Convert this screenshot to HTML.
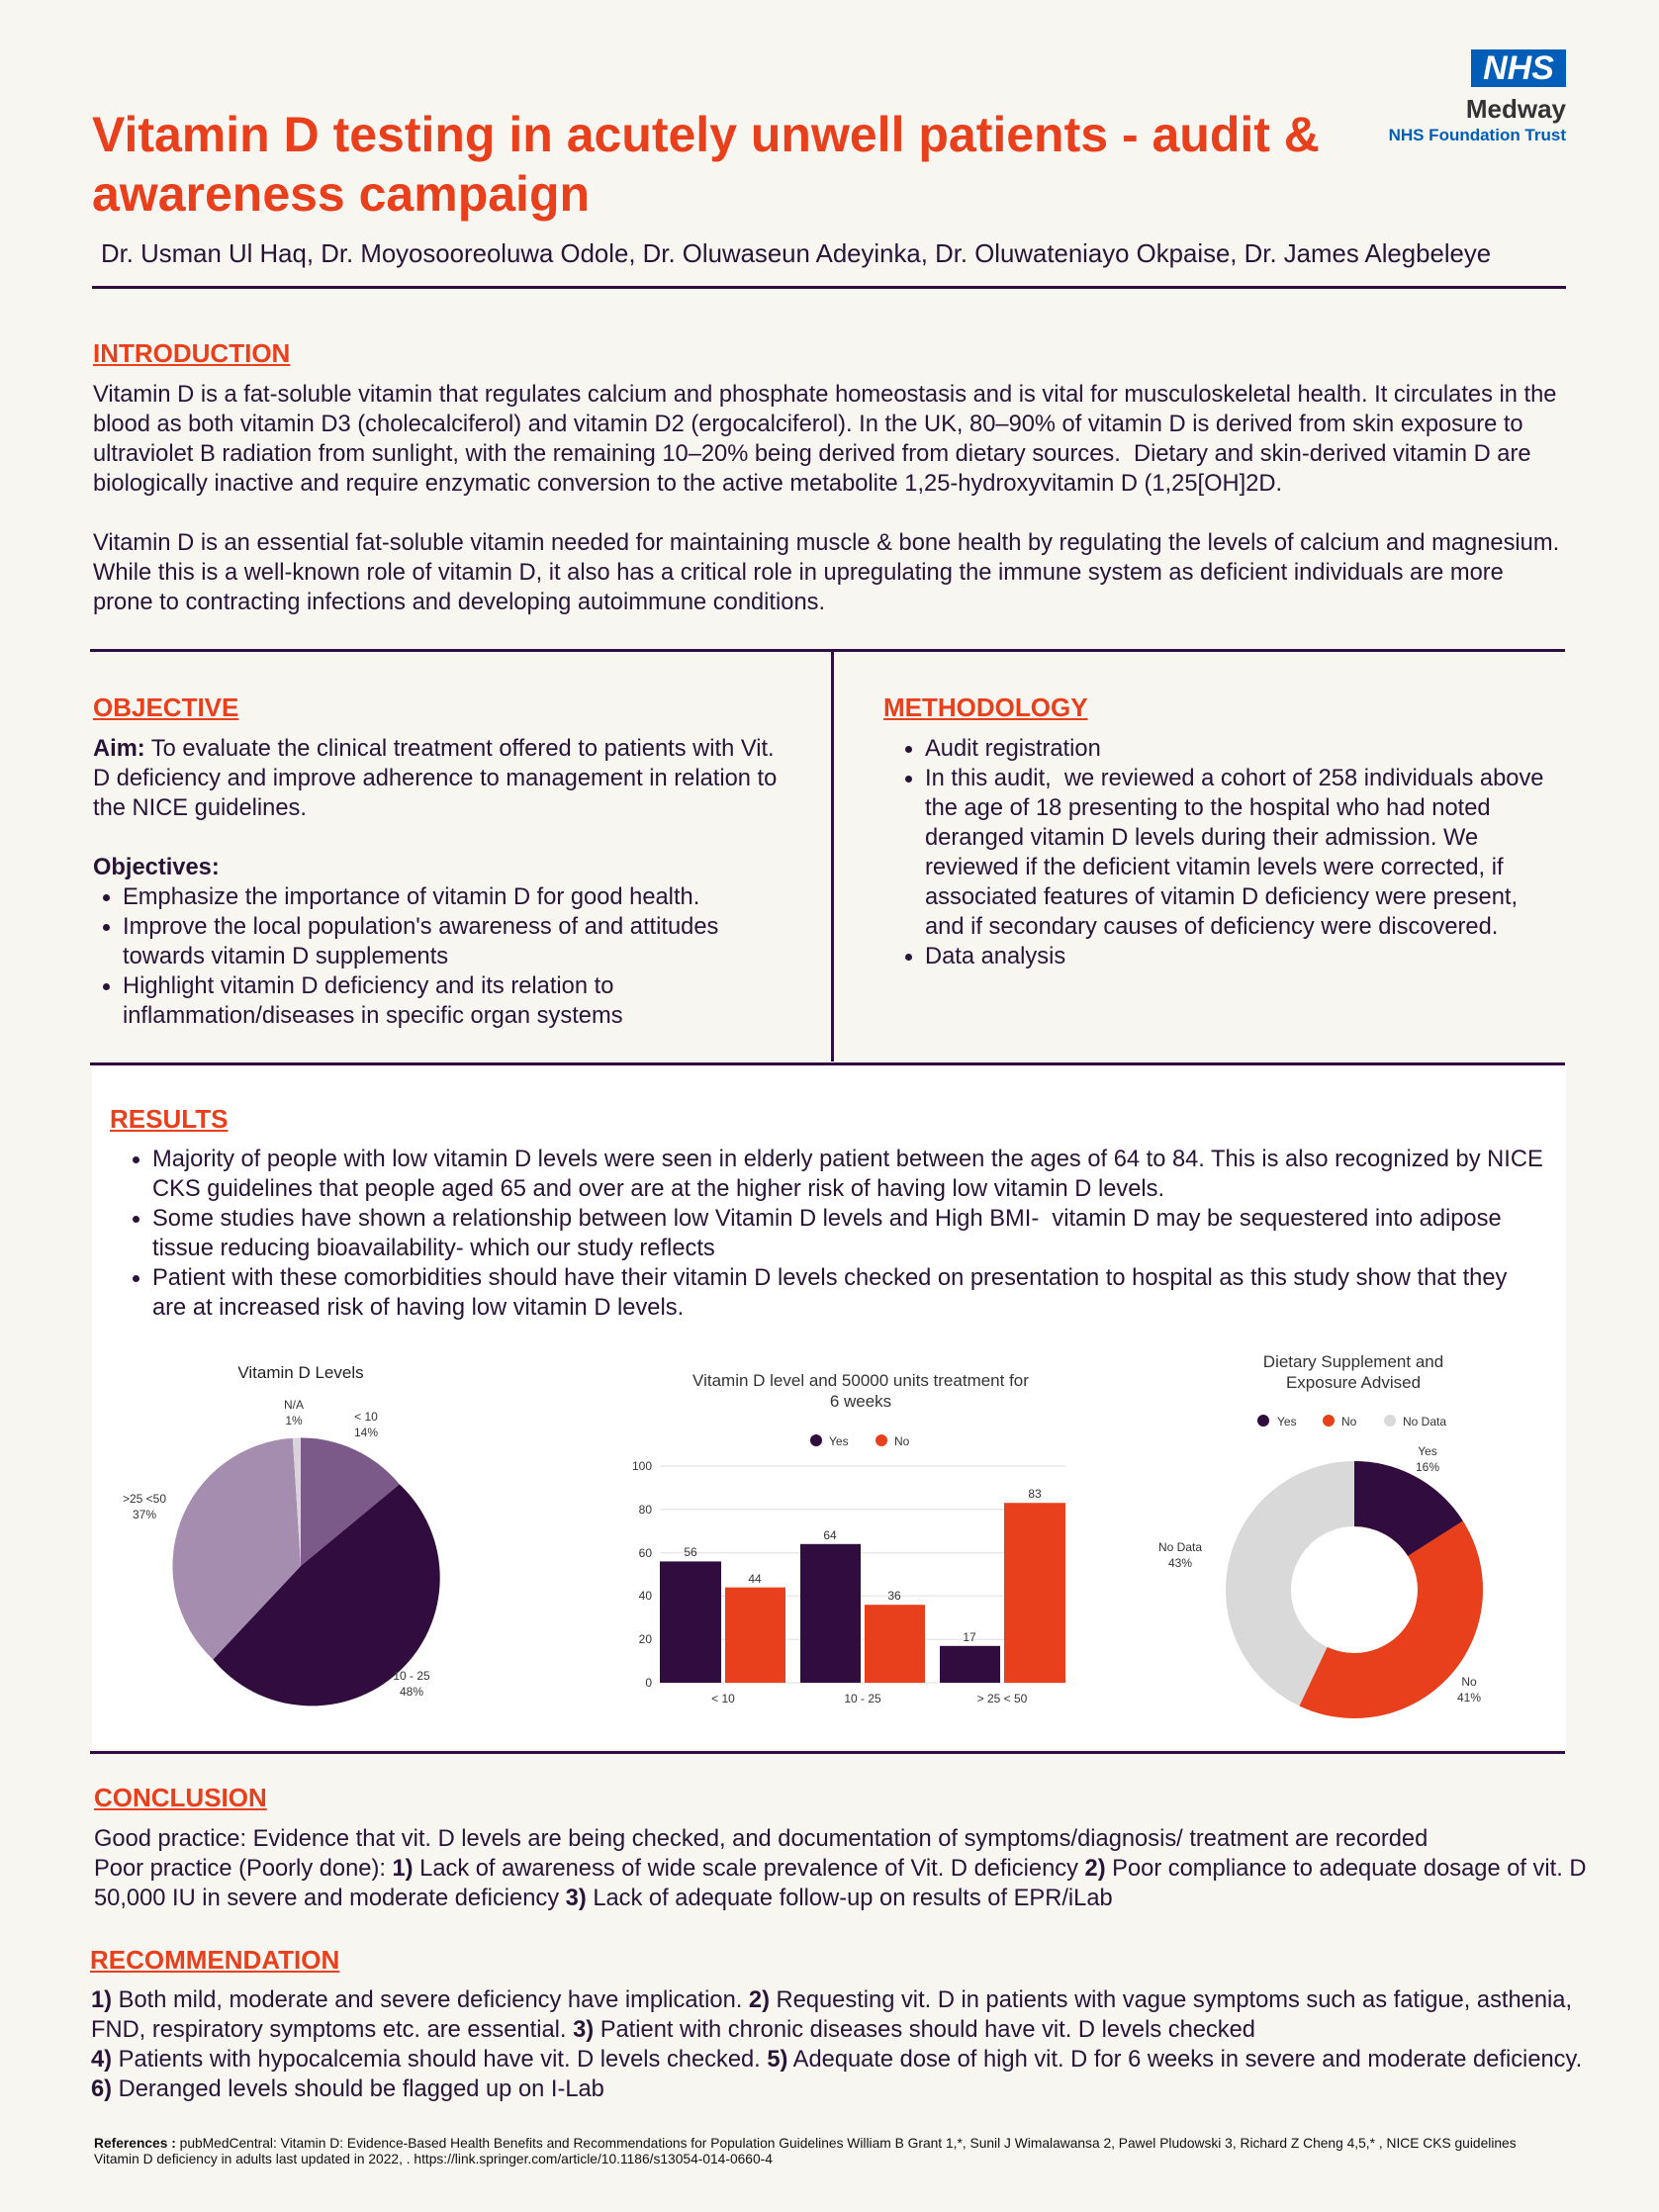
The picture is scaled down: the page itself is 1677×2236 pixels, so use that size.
<!DOCTYPE html>
<html><head><meta charset="utf-8"><style>
body{margin:0;background:#f7f6f1;}
#p{position:relative;width:1677px;height:2236px;background:#f7f6f1;font-family:"Liberation Sans",sans-serif;color:#2a1436;overflow:hidden}
.a{position:absolute;white-space:nowrap}
.h{font-weight:bold;color:#e8401c;text-decoration:underline;font-size:26px;font-family:"Liberation Sans",sans-serif}
.t{font-size:23.7px;line-height:30px}
.rule{position:absolute;height:3px;background:#2e0f3f}
ul{margin:0;padding-left:30px}
li{margin:0}
svg text{font-family:"Liberation Sans",sans-serif;fill:#333}
</style></head><body><div id="p">
<div class="a" style="left:93px;top:106px;font-size:50px;line-height:60px;font-weight:bold;color:#e8401c;font-family:'Liberation Sans',sans-serif">Vitamin D testing in acutely unwell patients - audit &amp;<br>awareness campaign</div>
<div class="a" style="left:1487px;top:50px;width:96px;height:38px;background:#005eb8;color:#fff;font:italic bold 34px/38px 'Liberation Sans',sans-serif;text-align:center">NHS</div>
<div class="a" style="right:94px;top:95px;font:bold 26px 'Liberation Sans',sans-serif;color:#333">Medway</div>
<div class="a" style="right:94px;top:127px;font:bold 17px 'Liberation Sans',sans-serif;color:#005eb8">NHS Foundation Trust</div>
<div class="a" style="left:102px;top:243px;font-size:25.8px;color:#2a1436">Dr. Usman Ul Haq, Dr. Moyosooreoluwa Odole, Dr. Oluwaseun Adeyinka, Dr. Oluwateniayo Okpaise, Dr. James Alegbeleye</div>
<div class="rule" style="left:93px;top:289px;width:1490px"></div>

<div class="a h" style="left:94px;top:342px">INTRODUCTION</div>
<div class="a t" style="left:94px;top:384px">Vitamin D is a fat-soluble vitamin that regulates calcium and phosphate homeostasis and is vital for musculoskeletal health. It circulates in the<br>blood as both vitamin D3 (cholecalciferol) and vitamin D2 (ergocalciferol). In the UK, 80–90% of vitamin D is derived from skin exposure to<br>ultraviolet B radiation from sunlight, with the remaining 10–20% being derived from dietary sources.&nbsp; Dietary and skin-derived vitamin D are<br>biologically inactive and require enzymatic conversion to the active metabolite 1,25-hydroxyvitamin D (1,25[OH]2D.<br><br>Vitamin D is an essential fat-soluble vitamin needed for maintaining muscle &amp; bone health by regulating the levels of calcium and magnesium.<br>While this is a well-known role of vitamin D, it also has a critical role in upregulating the immune system as deficient individuals are more<br>prone to contracting infections and developing autoimmune conditions.</div>
<div class="rule" style="left:91px;top:656px;width:1491px"></div>
<div class="a" style="left:840px;top:657px;width:3px;height:416px;background:#2e0f3f"></div>

<div class="a h" style="left:94px;top:700px">OBJECTIVE</div>
<div class="a t" style="left:94px;top:742px"><b>Aim:</b> To evaluate the clinical treatment offered to patients with Vit.<br>D deficiency and improve adherence to management in relation to<br>the NICE guidelines.<br><br><b>Objectives:</b>
<ul><li>Emphasize the importance of vitamin D for good health.</li><li>Improve the local population's awareness of and attitudes<br>towards vitamin D supplements</li><li>Highlight vitamin D deficiency and its relation to<br>inflammation/diseases in specific organ systems</li></ul></div>

<div class="a h" style="left:893px;top:700px">METHODOLOGY</div>
<div class="a t" style="left:893px;top:742px"><ul style="padding-left:42px"><li>Audit registration</li><li>In this audit,&nbsp; we reviewed a cohort of 258 individuals above<br>the age of 18 presenting to the hospital who had noted<br>deranged vitamin D levels during their admission. We<br>reviewed if the deficient vitamin levels were corrected, if<br>associated features of vitamin D deficiency were present,<br>and if secondary causes of deficiency were discovered.</li><li>Data analysis</li></ul></div>
<div class="rule" style="left:91px;top:1074px;width:1491px"></div>

<div class="a" style="left:93px;top:1078px;width:1490px;height:690px;background:#fff"></div>
<div class="a h" style="left:111px;top:1116px">RESULTS</div>
<div class="a t" style="left:124px;top:1157px"><ul><li>Majority of people with low vitamin D levels were seen in elderly patient between the ages of 64 to 84. This is also recognized by NICE<br>CKS guidelines that people aged 65 and over are at the higher risk of having low vitamin D levels.</li><li>Some studies have shown a relationship between low Vitamin D levels and High BMI-&nbsp; vitamin D may be sequestered into adipose<br>tissue reducing bioavailability- which our study reflects</li><li>Patient with these comorbidities should have their vitamin D levels checked on presentation to hospital as this study show that they<br>are at increased risk of having low vitamin D levels.</li></ul></div>

<svg class="a" style="left:0;top:0" width="1677" height="2236">
<text x="304" y="1393" font-size="17" text-anchor="middle" style="fill:#222">Vitamin D Levels</text>
<g transform="translate(304 1583) scale(0.96) translate(-304 -1583)">
<path d="M304 1583 L304 1448 A135 135 0 0 1 408 1496.9Z" fill="#7b5a8a"/>
<path d="M304 1583 L408 1496.9 A135 135 0 1 1 211.6 1681.4Z" fill="#300d3e"/>
<path d="M304 1583 L211.6 1681.4 A135 135 0 0 1 295.5 1448.3Z" fill="#a58db0"/>
<path d="M304 1583 L295.5 1448.3 A135 135 0 0 1 304 1448Z" fill="#d9d4dc"/>
</g>
<g font-size="12" text-anchor="middle"><text x="297" y="1424">N/A</text><text x="297" y="1440">1%</text>
<text x="370" y="1436">&lt; 10</text><text x="370" y="1452">14%</text>
<text x="146" y="1519">&gt;25 &lt;50</text><text x="146" y="1535">37%</text>
<text x="416" y="1698">10 - 25</text><text x="416" y="1714">48%</text></g>
<g font-size="17" text-anchor="middle" style="fill:#333"><text x="870" y="1401">Vitamin D level and 50000 units treatment for</text><text x="870" y="1422">6 weeks</text></g>
<circle cx="825" cy="1456" r="6" fill="#300d3e"/><text x="838" y="1461" font-size="12">Yes</text>
<circle cx="891" cy="1456" r="6" fill="#e8401c"/><text x="904" y="1461" font-size="12">No</text>
<g stroke="#e8e8ec" stroke-width="1.5"><line x1="667" x2="1077" y1="1482" y2="1482"/><line x1="667" x2="1077" y1="1525.8" y2="1525.8"/><line x1="667" x2="1077" y1="1569.6" y2="1569.6"/><line x1="667" x2="1077" y1="1613.4" y2="1613.4"/><line x1="667" x2="1077" y1="1657.2" y2="1657.2"/><line x1="667" x2="1077" y1="1701" y2="1701"/></g>
<g font-size="12" text-anchor="end"><text x="659" y="1486">100</text><text x="659" y="1530">80</text><text x="659" y="1574">60</text><text x="659" y="1617">40</text><text x="659" y="1661">20</text><text x="659" y="1705">0</text></g>
<g fill="#300d3e"><rect x="667" y="1578.4" width="62" height="122.6"/><rect x="809" y="1560.8" width="61" height="140.2"/><rect x="950" y="1663.8" width="61" height="37.2"/></g>
<g fill="#e8401c"><rect x="733" y="1604.6" width="61" height="96.4"/><rect x="874" y="1622.2" width="61" height="78.8"/><rect x="1015" y="1519.2" width="62" height="181.8"/></g>
<g font-size="12" text-anchor="middle"><text x="698" y="1573">56</text><text x="763" y="1600">44</text><text x="839" y="1556">64</text><text x="904" y="1617">36</text><text x="980" y="1659">17</text><text x="1046" y="1514">83</text>
<text x="731" y="1721">&lt; 10</text><text x="872" y="1721">10 - 25</text><text x="1013" y="1721">&gt; 25 &lt; 50</text></g>
<g font-size="17" text-anchor="middle" style="fill:#333"><text x="1368" y="1382">Dietary Supplement and</text><text x="1368" y="1403">Exposure Advised</text></g>
<circle cx="1277" cy="1436" r="6" fill="#300d3e"/><text x="1291" y="1441" font-size="12">Yes</text>
<circle cx="1343" cy="1436" r="6" fill="#e8401c"/><text x="1356" y="1441" font-size="12">No</text>
<circle cx="1405" cy="1436" r="6" fill="#d9d9d9"/><text x="1418" y="1441" font-size="12">No Data</text>
<g transform="rotate(-90 1369 1607)" fill="none" stroke-width="66">
<circle cx="1369" cy="1607" r="97" stroke="#d9d9d9"/>
<circle cx="1369" cy="1607" r="97" stroke="#e8401c" stroke-dasharray="347.4 1000"/>
<circle cx="1369" cy="1607" r="97" stroke="#300d3e" stroke-dasharray="97.5 1000"/>
</g>
<g font-size="12" text-anchor="middle"><text x="1443" y="1471">Yes</text><text x="1443" y="1487">16%</text>
<text x="1193" y="1568">No Data</text><text x="1193" y="1584">43%</text>
<text x="1485" y="1704">No</text><text x="1485" y="1720">41%</text></g>
</svg>
<div class="rule" style="left:91px;top:1770px;width:1491px"></div>

<div class="a h" style="left:95px;top:1802px">CONCLUSION</div>
<div class="a t" style="left:95px;top:1844px">Good practice: Evidence that vit. D levels are being checked, and documentation of symptoms/diagnosis/ treatment are recorded<br>Poor practice (Poorly done): <b>1)</b> Lack of awareness of wide scale prevalence of Vit. D deficiency <b>2)</b> Poor compliance to adequate dosage of vit. D<br>50,000 IU in severe and moderate deficiency <b>3)</b> Lack of adequate follow-up on results of EPR/iLab</div>

<div class="a h" style="left:91px;top:1966px">RECOMMENDATION</div>
<div class="a t" style="left:92px;top:2007px"><b>1)</b> Both mild, moderate and severe deficiency have implication. <b>2)</b> Requesting vit. D in patients with vague symptoms such as fatigue, asthenia,<br>FND, respiratory symptoms etc. are essential. <b>3)</b> Patient with chronic diseases should have vit. D levels checked<br><b>4)</b> Patients with hypocalcemia should have vit. D levels checked. <b>5)</b> Adequate dose of high vit. D for 6 weeks in severe and moderate deficiency.<br><b>6)</b> Deranged levels should be flagged up on I-Lab</div>

<div class="a" style="left:95px;top:2159px;font-size:13.8px;line-height:16px;color:#111"><b>References :</b> pubMedCentral: Vitamin D: Evidence-Based Health Benefits and Recommendations for Population Guidelines William B Grant 1,*, Sunil J Wimalawansa 2, Pawel Pludowski 3, Richard Z Cheng 4,5,* , NICE CKS guidelines<br>Vitamin D deficiency in adults last updated in 2022, . https://link.springer.com/article/10.1186/s13054-014-0660-4</div>
</div></body></html>
